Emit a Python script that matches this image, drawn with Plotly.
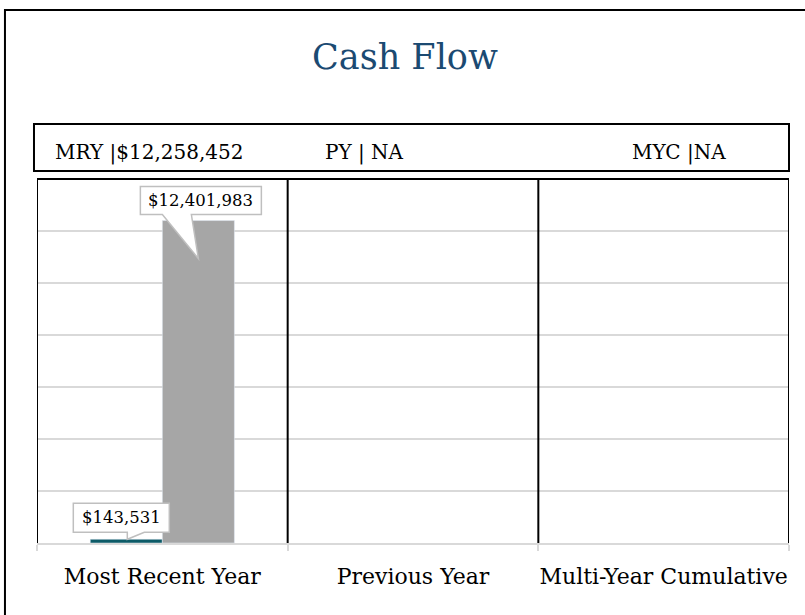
import plotly.graph_objects as go

# ---- data ----
categories = ["Most Recent Year", "Previous Year", "Multi-Year Cumulative"]
cash_in = [143531, None, None]
cash_out = [12401983, None, None]
header_labels = ["MRY |$12,258,452", "PY | NA", "MYC |NA"]
title_text = "Cash Flow"

FONT = "DejaVu Serif"
TEAL = "#0D5B67"
GREY = "#A6A6A6"
GRID = "#D9D9D9"
BARGAP = 0.425

fig = go.Figure()
fig.add_trace(go.Bar(x=categories, y=cash_in, name="Cash In", marker_color=TEAL,
                     hoverinfo="skip"))
fig.add_trace(go.Bar(x=categories, y=cash_out, name="Cash Out", marker_color=GREY,
                     hoverinfo="skip"))

shapes = []
# plot frame / separators
for xv in [-0.5, 0.5, 1.5, 2.5]:
    shapes.append(dict(type="line", xref="x", yref="paper", x0=xv, x1=xv, y0=0, y1=1,
                       line=dict(color="black", width=2)))
shapes.append(dict(type="line", xref="paper", yref="paper", x0=0, x1=1, y0=1, y1=1,
                   line=dict(color="black", width=2)))
# header box
shapes.append(dict(type="rect", xref="paper", yref="paper", x0=-0.004, x1=1.0,
                   y0=1.022, y1=1.151, line=dict(color="black", width=2)))
# outer border
shapes.append(dict(type="rect", xref="paper", yref="paper", x0=-0.0426, x1=1.2,
                   y0=-0.5, y1=1.464, line=dict(color="black", width=2)))

# callouts for data labels
w = 1 - BARGAP
annotations = []
callouts = [
    (0 - w / 4, cash_in[0], "M -53,36 L 43,36 L 43,7 L 18,7 L 1,0 L 1,7 L -53,7 Z", -5, 21.5),
    (0 + w / 4, cash_out[0], "M -58,34 L 63,34 L 63,6 L -7,6 L 0,-38 L -36,6 L -58,6 Z", 2.5, 20),
]
for xa, val, path, xs, ys in callouts:
    shapes.append(dict(type="path", xref="x", yref="y", xsizemode="pixel", ysizemode="pixel",
                       xanchor=xa, yanchor=val, path=path, fillcolor="white",
                       line=dict(color="#BFBFBF", width=1.5), layer="above"))
    annotations.append(dict(xref="x", yref="y", x=xa, y=val, xshift=xs, yshift=ys,
                            text=f"${val:,.0f}", showarrow=False,
                            font=dict(family=FONT, size=16.5, color="black")))

# header texts
for xp, txt in zip([0.021, 0.380, 0.789], header_labels):
    annotations.append(dict(xref="paper", yref="paper", x=xp, y=1.074, xanchor="left",
                            yanchor="middle", text=txt, showarrow=False,
                            font=dict(family=FONT, size=20, color="black")))

fig.update_layout(
    width=805, height=615,
    margin=dict(l=37, r=16, t=179, b=72, pad=0, autoexpand=False),
    paper_bgcolor="white", plot_bgcolor="white",
    barmode="group", bargap=BARGAP, bargroupgap=0,
    showlegend=False,
    title=dict(text=title_text, x=405 / 805, xanchor="center",
               y=1 - 57 / 615, yanchor="middle", automargin=False,
               font=dict(family=FONT, size=35, color="#1B4A72")),
    xaxis=dict(type="category", categoryorder="array", categoryarray=categories,
               range=[-0.5, 2.5], showline=True, linecolor=GRID, linewidth=2,
               ticks="outside", tickson="boundaries", ticklen=6, tickcolor=GRID, tickwidth=2,
               ticklabelstandoff=13, tickangle=0, automargin=False,
               showgrid=False, tickfont=dict(family=FONT, size=22, color="black")),
    yaxis=dict(range=[0, 14000000], dtick=2000000, showticklabels=False, automargin=False,
               gridcolor=GRID, gridwidth=1.5, zeroline=False, showline=False, ticks=""),
    shapes=shapes,
    annotations=annotations,
)

fig.write_html("out.html", config={"displayModeBar": False},
               post_script="document.body.style.margin='0';document.body.style.overflow='hidden';")
